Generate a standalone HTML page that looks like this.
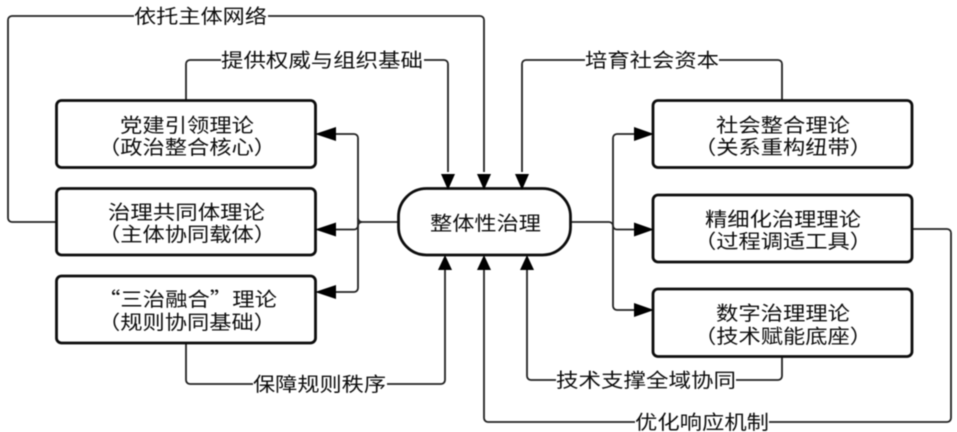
<!DOCTYPE html>
<html><head><meta charset="utf-8"><style>
html,body{margin:0;padding:0;background:#fff;width:957px;height:432px;overflow:hidden}
svg{display:block;filter:blur(.5px)}
text{font-family:"Noto Sans CJK SC","Liberation Sans",sans-serif;font-size:19.500px;fill:#0d0d0d;font-weight:400}
.b{fill:#fff;stroke:#0d0d0d;stroke-width:2.8}
.l{fill:none;stroke:#222;stroke-width:1.8}
.a{fill:#000}
</style></head><body>
<svg width="957" height="432" viewBox="0 0 957 432" xmlns="http://www.w3.org/2000/svg" lang="zh-CN">
<!-- connectors -->
<path class="l" d="M56 222H12a4 4 0 0 1-4-4V20a4 4 0 0 1 4-4H480a4 4 0 0 1 4 4V172"/>
<path class="l" d="M186 100V64a4 4 0 0 1 4-4H444a4 4 0 0 1 4 4V172"/>
<path class="l" d="M782 100V64a4 4 0 0 0-4-4H526a4 4 0 0 0-4 4V172"/>
<path class="l" d="M398 222H362a4 4 0 0 1-4-4V138a4 4 0 0 0-4-4H332"/>
<path class="l" d="M358 218V288a4 4 0 0 1-4 4H332"/>
<path class="l" d="M362 222a4 4 0 0 0-4 4a4 4 0 0 1-4 3.500H332"/>
<path class="l" d="M571 222H609a4 4 0 0 1 4 4"/>
<path class="l" d="M613 218V138a4 4 0 0 1 4-4H638"/>
<path class="l" d="M613 218V306a4 4 0 0 0 4 4H638"/>
<path class="l" d="M613 226a4 4 0 0 0 4 3.500H638"/>
<path class="l" d="M186 343V380a4 4 0 0 0 4 4H441a4 4 0 0 0 4-4V270"/>
<path class="l" d="M782 357V376a4 4 0 0 1-4 4H531a4 4 0 0 1-4-4V270"/>
<path class="l" d="M912 229H947a4 4 0 0 1 4 4V418a4 4 0 0 1-4 4H488a4 4 0 0 1-4-4V270"/>
<!-- boxes -->
<rect class="b" x="56.500" y="100.500" width="259" height="67" rx="5"/>
<rect class="b" x="56.500" y="188.500" width="259" height="66.500" rx="5"/>
<rect class="b" x="56.500" y="276" width="259" height="67" rx="5"/>
<rect class="b" x="653" y="100.500" width="259" height="67" rx="5"/>
<rect class="b" x="653" y="195" width="259" height="67" rx="5"/>
<rect class="b" x="653" y="289" width="259" height="67.500" rx="5"/>
<rect class="b" x="398.500" y="188.500" width="172" height="66.500" rx="28"/>
<!-- arrowheads -->
<path class="a" d="M441 174H455L448 190Z"/>
<path class="a" d="M477 174H491L484 190Z"/>
<path class="a" d="M515 174H529L522 190Z"/>
<path class="a" d="M438 270H452L445 255Z"/>
<path class="a" d="M477 270H491L484 255Z"/>
<path class="a" d="M520 270H534L527 255Z"/>
<path class="a" d="M336 127V141L315 134Z"/>
<path class="a" d="M336 222.500V236.500L315 229.500Z"/>
<path class="a" d="M336 285V299L315 292Z"/>
<path class="a" d="M634 127V141L654 134Z"/>
<path class="a" d="M634 222.500V236.500L654 229.500Z"/>
<path class="a" d="M634 303V317L654 310Z"/>
<!-- connector labels -->
<rect x="134" y="6" width="134" height="21" fill="#fff"/>
<rect x="221" y="50" width="203" height="21" fill="#fff"/>
<rect x="585" y="50" width="134" height="21" fill="#fff"/>
<rect x="253" y="374" width="134" height="21" fill="#fff"/>
<rect x="556" y="370" width="180" height="21" fill="#fff"/>
<rect x="635" y="412" width="134" height="20" fill="#fff"/>
<text x="134" y="23" textLength="133" lengthAdjust="spacingAndGlyphs">依托主体网络</text>
<text x="221" y="67" textLength="202" lengthAdjust="spacingAndGlyphs">提供权威与组织基础</text>
<text x="585" y="67" textLength="134" lengthAdjust="spacingAndGlyphs">培育社会资本</text>
<text x="253" y="391" textLength="133" lengthAdjust="spacingAndGlyphs">保障规则秩序</text>
<text x="556" y="387" textLength="180" lengthAdjust="spacingAndGlyphs">技术支撑全域协同</text>
<text x="635" y="429" textLength="134" lengthAdjust="spacingAndGlyphs">优化响应机制</text>
<!-- node labels -->
<text x="120" y="132" textLength="134" lengthAdjust="spacingAndGlyphs">党建引领理论</text>
<text x="98" y="154" textLength="178" lengthAdjust="spacingAndGlyphs">（政治整合核心）</text>
<text x="108" y="219" textLength="157" lengthAdjust="spacingAndGlyphs">治理共同体理论</text>
<text x="98" y="241" textLength="178" lengthAdjust="spacingAndGlyphs">（主体协同载体）</text>
<text x="98" y="306" textLength="179" lengthAdjust="spacingAndGlyphs">“三治融合”理论</text>
<text x="98" y="329" textLength="178" lengthAdjust="spacingAndGlyphs">（规则协同基础）</text>
<text x="716" y="132" textLength="134" lengthAdjust="spacingAndGlyphs">社会整合理论</text>
<text x="694" y="154" textLength="178" lengthAdjust="spacingAndGlyphs">（关系重构纽带）</text>
<text x="705" y="226" textLength="156" lengthAdjust="spacingAndGlyphs">精细化治理理论</text>
<text x="694" y="248" textLength="178" lengthAdjust="spacingAndGlyphs">（过程调适工具）</text>
<text x="716" y="320" textLength="134" lengthAdjust="spacingAndGlyphs">数字治理理论</text>
<text x="694" y="343" textLength="178" lengthAdjust="spacingAndGlyphs">（技术赋能底座）</text>
<text x="430" y="230" textLength="111" lengthAdjust="spacingAndGlyphs">整体性治理</text>
</svg>
</body></html>
